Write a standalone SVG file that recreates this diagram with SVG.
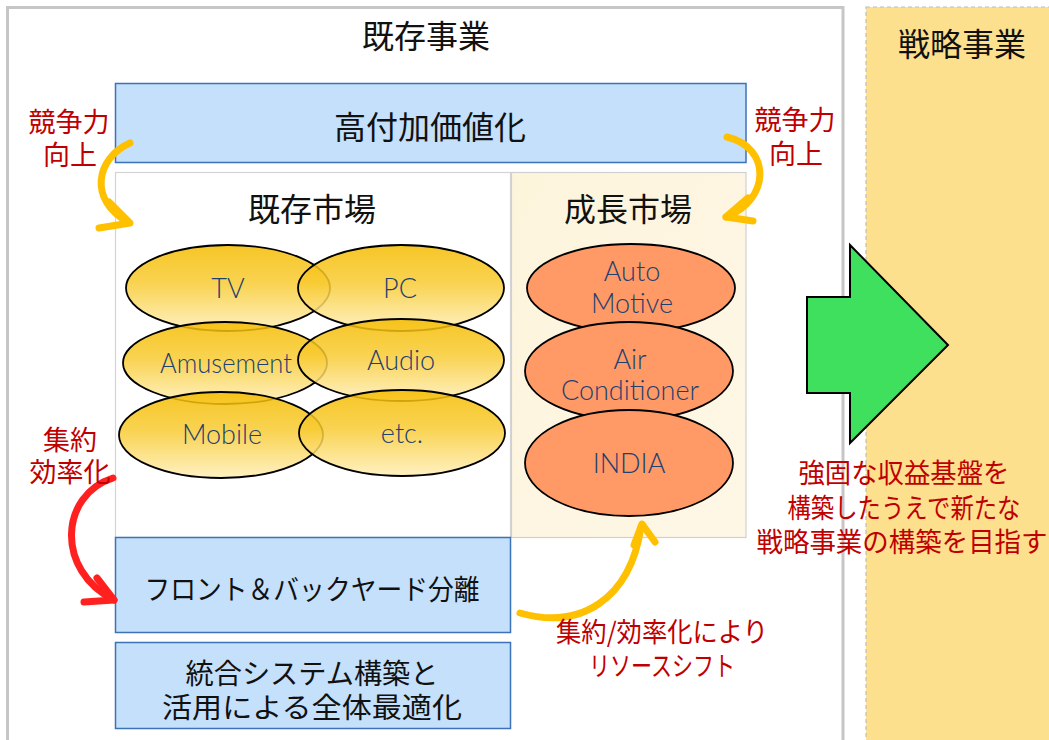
<svg xmlns="http://www.w3.org/2000/svg" width="1049" height="740" viewBox="0 0 1049 740">
<defs>
<linearGradient id="gold" x1="0" y1="0" x2="0" y2="1">
<stop offset="0" stop-color="#F5BC00"/>
<stop offset="0.45" stop-color="#F8CB33"/>
<stop offset="1" stop-color="#FFEFB8"/>
</linearGradient>
<linearGradient id="cream" x1="0" y1="0" x2="1" y2="1">
<stop offset="0" stop-color="#FDF4DC"/>
<stop offset="1" stop-color="#FEF7E6"/>
</linearGradient>
</defs>
<style>
.jp{font-family:"Noto Sans CJK JP","Noto Sans CJK SC",sans-serif;text-anchor:middle;dominant-baseline:central}
.title{font-size:32px;fill:#111}
.red{font-size:27px;fill:#C00000}
.blue{fill:#C4E0FB;stroke:#3C72B8;stroke-width:1.5}
.gold{fill:url(#gold);fill-opacity:0.85;stroke:#000;stroke-width:1.8}
.orange{fill:#FF9966;stroke:#000;stroke-width:1.8}
.lat{font-family:Lato,"Liberation Sans",sans-serif;font-weight:300;font-size:27px;fill:#1F3F6E;text-anchor:middle;dominant-baseline:central}
.ya{fill:none;stroke:#FFC000;stroke-width:7;stroke-linecap:round;stroke-linejoin:round}
.ra{fill:none;stroke:#FF2020;stroke-width:7;stroke-linecap:round;stroke-linejoin:round}
</style>
<rect width="1049" height="740" fill="#fff"/>
<g id="existing-business">
<rect x="7.5" y="7.5" width="835.5" height="760" fill="#fff" stroke="#C6C6C6" stroke-width="3"/>
<text class="jp title" x="426" y="34">既存事業</text>
</g>
<g id="strategic-business">
<rect x="866" y="7" width="200" height="760" fill="#FDE08E" stroke="#BDBDBD" stroke-width="1.2" stroke-dasharray="4 3"/>
<text class="jp title" x="962" y="42">戦略事業</text>
</g>
<g id="high-value">
<rect class="blue" x="115.5" y="83.5" width="630.5" height="79"/>
<text class="jp title" x="430" y="125">高付加価値化</text>
</g>
<g id="existing-market">
<rect x="115.5" y="172.5" width="395" height="365" fill="#fff" stroke="#D4D4D4" stroke-width="1.2"/>
<text class="jp title" x="312" y="207">既存市場</text>
</g>
<g id="growth-market">
<rect x="511.5" y="172.5" width="234.5" height="365" fill="url(#cream)" stroke="#D0D0D0" stroke-width="1.2"/>
<text class="jp title" x="628" y="207">成長市場</text>
</g>
<g id="tv"><ellipse class="gold" cx="228" cy="288" rx="102" ry="43"/><text class="lat" x="228" y="287">TV</text></g>
<g id="pc"><ellipse class="gold" cx="401" cy="288" rx="103" ry="43"/><text class="lat" x="400" y="287">PC</text></g>
<g id="amusement"><ellipse class="gold" cx="225" cy="363" rx="102" ry="41"/><text class="lat" x="226" y="362" textLength="132" lengthAdjust="spacingAndGlyphs">Amusement</text></g>
<g id="audio"><ellipse class="gold" cx="401" cy="360" rx="103" ry="41"/><text class="lat" x="401" y="359">Audio</text></g>
<g id="mobile"><ellipse class="gold" cx="221" cy="435" rx="102" ry="43"/><text class="lat" x="222" y="433">Mobile</text></g>
<g id="etc"><ellipse class="gold" cx="402" cy="433" rx="103" ry="43"/><text class="lat" x="402" y="432">etc.</text></g>
<g id="automotive"><ellipse class="orange" cx="631" cy="288" rx="104" ry="44"/><text class="lat" x="632" y="270">Auto</text><text class="lat" x="632" y="302">Motive</text></g>
<g id="aircon"><ellipse class="orange" cx="629" cy="371" rx="104" ry="49"/><text class="lat" x="630" y="358">Air</text><text class="lat" x="630" y="389">Conditioner</text></g>
<g id="india"><ellipse class="orange" cx="629" cy="463" rx="104" ry="53"/><text class="lat" x="629" y="462">INDIA</text></g>
<g id="front-back">
<rect class="blue" x="115.5" y="537.5" width="395" height="95"/>
<text class="jp" x="312" y="588" font-size="28" fill="#111" textLength="335" lengthAdjust="spacingAndGlyphs">フロント＆バックヤード分離</text>
</g>
<g id="integrated-system">
<rect class="blue" x="115.5" y="642.5" width="395" height="86"/>
<text class="jp" x="312" y="672" font-size="28" fill="#111" textLength="253" lengthAdjust="spacingAndGlyphs">統合システム構築と</text>
<text class="jp" x="312" y="706" font-size="28" fill="#111" textLength="300" lengthAdjust="spacingAndGlyphs">活用による全体最適化</text>
</g>
<g id="green-arrow">
<polygon points="807,297 850,297 850,245 948,345 850,443 850,393 807,393" fill="#3EE05E" stroke="#000" stroke-width="2" stroke-linejoin="miter"/>
</g>
<g id="connectors">
<path class="ya" d="M130,143 C96,158 88,200 128,222"/>
<path class="ya" d="M99,228 L130,223 L109,202"/>
<path class="ya" d="M727,137 C772,148 770,200 726,217"/>
<path class="ya" d="M753,221 L726,217 L748,198"/>
<path class="ra" d="M113,478 C60,495 55,570 114,600"/>
<path class="ra" d="M84,602 L114,600 L97,578"/>
<path class="ya" d="M520,613 C580,630 630,600 641,527"/>
<path class="ya" d="M634,545 L642,524 L655,542"/>
</g>
<g id="labels">
<text class="jp red" x="69" y="120">競争力</text>
<text class="jp red" x="70" y="153">向上</text>
<text class="jp red" x="795" y="118">競争力</text>
<text class="jp red" x="796" y="152">向上</text>
<text class="jp red" x="70" y="438">集約</text>
<text class="jp red" x="70" y="470">効率化</text>
<text class="jp red" x="662" y="630" font-size="26" textLength="212" lengthAdjust="spacingAndGlyphs">集約/効率化により</text>
<text class="jp red" x="662" y="664" font-size="26" textLength="146" lengthAdjust="spacingAndGlyphs">リソースシフト</text>
<text class="jp red" x="904" y="471" font-size="26" textLength="211" lengthAdjust="spacingAndGlyphs">強固な収益基盤を</text>
<text class="jp red" x="904" y="506" font-size="26" textLength="233" lengthAdjust="spacingAndGlyphs">構築したうえで新たな</text>
<text class="jp red" x="902" y="540" font-size="26" textLength="291" lengthAdjust="spacingAndGlyphs">戦略事業の構築を目指す</text>
</g>
</svg>
